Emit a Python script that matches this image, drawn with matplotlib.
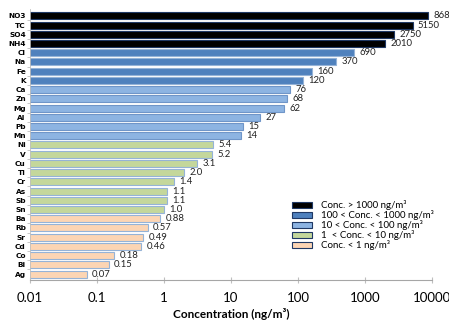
import matplotlib.pyplot as plt
from matplotlib.patches import Patch

species = ['NO3', 'TC', 'SO4', 'NH4', 'Cl', 'Na', 'Fe', 'K', 'Ca', 'Zn', 'Mg', 'Al',
           'Pb', 'Mn', 'Ni', 'V', 'Cu', 'Ti', 'Cr', 'As', 'Sb', 'Sn', 'Ba', 'Rb',
           'Sr', 'Cd', 'Co', 'Bi', 'Ag']
conc = [8680, 5150, 2750, 2010, 690, 370, 160, 120, 76, 68, 62, 27,
        15, 14, 5.4, 5.2, 3.1, 2.0, 1.4, 1.1, 1.1, 1.0, 0.88, 0.57,
        0.49, 0.46, 0.18, 0.15, 0.07]
conc_labels = ['8680', '5150', '2750', '2010', '690', '370', '160', '120', '76', '68', '62', '27',
               '15', '14', '5.4', '5.2', '3.1', '2.0', '1.4', '1.1', '1.1', '1.0', '0.88', '0.57',
               '0.49', '0.46', '0.18', '0.15', '0.07']
legend_labels = ['Conc. > 1000 ng/m³', '100 < Conc. < 1000 ng/m³', '10 < Conc. < 100 ng/m³',
                 '1  < Conc. < 10 ng/m³', 'Conc. < 1 ng/m³']
group_colors = ['#000000', '#4F81BD', '#8DB4E2', '#C4D79B', '#FCD5B4']
group_edges = ['#1F3864', '#95B3D7', '#6F95C8', '#95B3D7', '#95B3D7']

def group_of(v):
    if v > 1000:
        return 0
    elif v > 100:
        return 1
    elif v > 10:
        return 2
    elif v >= 1:
        return 3
    return 4

plt.rcParams['font.family'] = ['Lato', 'DejaVu Sans']

fig = plt.figure(figsize=(4.49, 3.22), dpi=100)
ax = fig.add_axes([0.0668, 0.129, 0.8953, 0.842])

ypos = list(range(len(species)))
cols = [group_colors[group_of(v)] for v in conc]
edges = [group_edges[group_of(v)] for v in conc]
ax.barh(ypos, conc, left=0.0, height=0.76, color=cols, edgecolor=edges, linewidth=0.8)
ax.set_xscale('log')
ax.set_xlim(0.01, 10000)
ax.set_ylim(len(species) - 0.3, -0.7)

# Wertebeschriftung rechts neben den Balken
for y, v, lab in zip(ypos, conc, conc_labels):
    ax.text(v * 1.2, y, lab, fontsize=6.8, ha='left', va='center', color='#222222')

ax.set_yticks(ypos)
ax.set_yticklabels(species, fontsize=5.3, fontweight='bold', family='DejaVu Sans')
ax.set_yticks([i + 0.5 for i in ypos[:-1]], minor=True)
ax.tick_params(axis='y', which='major', length=0, pad=3)
ax.tick_params(axis='y', which='minor', length=2, color='#BFBFBF', width=0.6)
ax.set_xticks([0.01, 0.1, 1, 10, 100, 1000, 10000])
ax.set_xticklabels(['0.01', '0.1', '1', '10', '100', '1000', '10000'], fontsize=9.5)
ax.xaxis.set_minor_locator(plt.NullLocator())
ax.tick_params(axis='x', direction='inout', length=4, color='#BFBFBF', pad=6)

for s in ['top', 'right']:
    ax.spines[s].set_visible(False)
ax.spines['bottom'].set_color('#A6A6A6')
ax.spines['left'].set_color('#BFBFBF')
ax.spines['left'].set_linewidth(0.6)

ax.set_xlabel('Concentration (ng/m³)', fontsize=8.5, fontweight='bold', labelpad=3)

handles = [Patch(facecolor=c, edgecolor='#1F3864', linewidth=0.8) for c in group_colors]
ax.legend(handles, legend_labels, loc='upper left', bbox_to_anchor=(0.652, 0.295),
          frameon=False, fontsize=7, handlelength=2.0, handleheight=0.7,
          labelspacing=0.0, handletextpad=1.0, borderpad=0, borderaxespad=0)

fig.savefig('out.png', dpi=100)
